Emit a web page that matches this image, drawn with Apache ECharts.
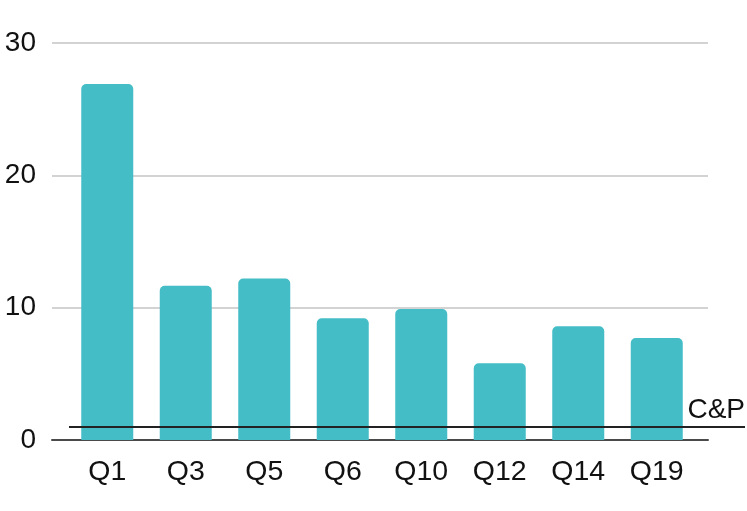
<!DOCTYPE html>
<html><head><meta charset="utf-8">
<script src="https://cdn.jsdelivr.net/npm/echarts@6/dist/echarts.min.js"></script>
<style>html,body{margin:0;padding:0;background:#fff}#c{width:747px;height:511px}</style>
</head><body><div id="c"></div>
<script>
const categories = ['Q1','Q3','Q5','Q6','Q10','Q12','Q14','Q19'];
const values = [26.9, 11.65, 12.2, 9.2, 9.9, 5.8, 8.6, 7.7];
const yTicks = [0, 10, 20, 30];
const refValue = 1;
const refLabel = 'C&P';

const chart = echarts.init(document.getElementById('c'), null, {renderer:'canvas'});
const FONT = '"Liberation Sans", Arial, sans-serif';
const gTop = 43, gBottom = 71;
chart.setOption({
  animation: false,
  grid: [
    {left: 52, right: 39, top: gTop, bottom: gBottom},
    {left: 68, right: 51, top: gTop, bottom: gBottom},
    {left: 69, right: 2, top: gTop, bottom: gBottom}
  ],
  xAxis: [
    {gridIndex: 0, type: 'value', min: 0, max: 1, show: true,
     axisLine: {show: true, onZero: false, lineStyle: {color: '#4a4a4a', width: 2}},
     axisTick: {show: false}, axisLabel: {show: false}, splitLine: {show: false}},
    {gridIndex: 1, type: 'category', data: categories,
     axisLine: {show: false}, axisTick: {show: false},
     axisLabel: {color: '#111', fontSize: 28.5, fontFamily: FONT, margin: 18}},
    {gridIndex: 2, type: 'value', min: 0, max: 1, show: false}
  ],
  yAxis: [
    {gridIndex: 0, type: 'value', min: yTicks[0], max: yTicks[yTicks.length-1], interval: 10,
     axisLine: {show: false}, axisTick: {show: false},
     axisLabel: {color: '#111', fontSize: 28, fontFamily: FONT, margin: 16},
     splitLine: {show: true, lineStyle: {color: '#d3d3d3', width: 2}}},
    {gridIndex: 1, type: 'value', min: 0, max: 30, show: false},
    {gridIndex: 2, type: 'value', min: 0, max: 30, show: false}
  ],
  series: [
    {type: 'bar', xAxisIndex: 1, yAxisIndex: 1, data: values, barWidth: 52, z: 3,
     itemStyle: {color: '#45bdc6', borderRadius: [5,5,0,0]}},
    {type: 'line', xAxisIndex: 2, yAxisIndex: 2, data: [], z: 5,
     markLine: {silent: true, symbol: 'none',
       lineStyle: {color: '#222', width: 2, type: 'solid'},
       label: {show: true, position: 'insideEndTop', formatter: refLabel, color: '#111',
               fontSize: 28, fontFamily: FONT, distance: [0, 2]},
       data: [{yAxis: refValue}]}}
  ]
});
</script></body></html>
